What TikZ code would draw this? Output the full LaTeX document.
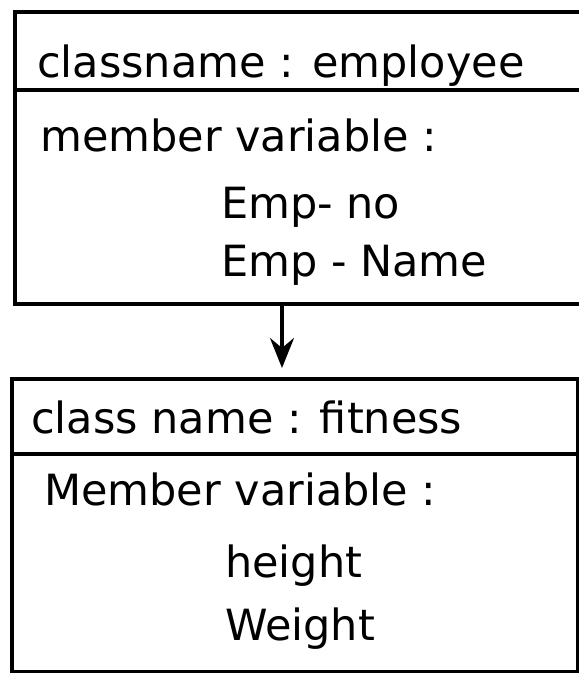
\documentclass[tikz,border=0pt]{standalone}
\usepackage{fontspec}
\setmainfont{DejaVu Sans}
\usetikzlibrary{arrows.meta}
\begin{document}
\begin{tikzpicture}[x=1pt,y=1pt,
  comp/.style={draw=black, line width=3.5pt, rectangle, inner sep=0pt, anchor=north west},
  txt/.style={anchor=base west, inner sep=0pt, font=\fontsize{43}{50}\selectfont},
  arr/.style={draw=black, line width=3.5pt, -{Stealth[length=30pt,width=24pt,inset=10pt]}, shorten >=9pt}]
\clip (0,0) rectangle (579,-673);
\fill[white] (0,0) rectangle (579,-673);
% class 1
\node[comp, minimum width=600pt, minimum height=78pt] (h1) at (13,-10) {};
\node[comp, minimum width=600pt, minimum height=214pt] (b1) at (13,-88) {};
% class 2
\node[comp, minimum width=566pt, minimum height=75pt] (h2) at (10,-377) {};
\node[comp, minimum width=566pt, minimum height=218pt] (b2) at (10,-452) {};
% texts
\node[txt] (t1) at (37,-77) {classname : employee};
\node[txt] (t2) at (40,-151) {member variable :};
\node[txt] (t3) at (221,-218) {Emp- no};
\node[txt] (t4) at (221,-276) {Emp - Name};
\node[txt] (t5) at (31,-433) {class name : fitness};
\node[txt] (t6) at (44,-505) {Member variable :};
\node[txt] (t7) at (225,-577) {height};
\node[txt] (t8) at (225,-640) {Weight};
% connector
\coordinate (ax) at (282,0);
\draw[arr] (ax |- b1.south) -- (ax |- h2.north);
\end{tikzpicture}
\end{document}
